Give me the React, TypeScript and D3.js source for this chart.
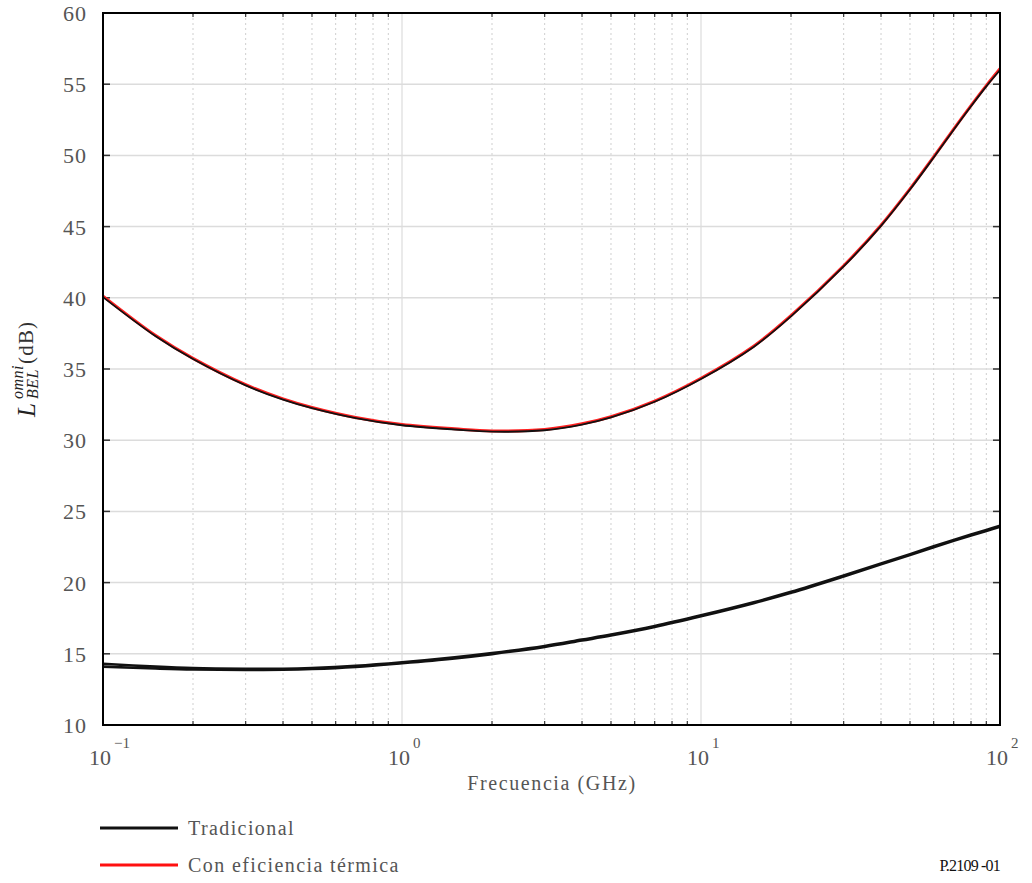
import React from "react";
import * as d3 from "d3";

const freqs = [0.1, 0.15, 0.2, 0.3, 0.4, 0.5, 0.7, 1, 1.5, 2, 3, 4, 5, 7, 10, 15, 20, 30, 40, 50, 60, 70, 80, 90, 100];
const thermalBlack = [40.05, 37.3, 35.7, 33.85, 32.85, 32.25, 31.55, 31.05, 30.75, 30.6, 30.7, 31.1, 31.6, 32.7, 34.3, 36.55, 38.7, 42.2, 45.05, 47.6, 49.85, 51.8, 53.45, 54.85, 56.0];
const thermalRed = [40.12, 37.35, 35.75, 33.9, 32.9, 32.3, 31.6, 31.1, 30.8, 30.65, 30.75, 31.15, 31.65, 32.75, 34.35, 36.6, 38.75, 42.25, 45.1, 47.65, 49.9, 51.85, 53.5, 54.9, 56.08];
const tradA = [14.3, 14.1, 14.0, 13.95, 13.95, 14.0, 14.15, 14.4, 14.75, 15.05, 15.55, 16.0, 16.35, 16.95, 17.7, 18.62, 19.35, 20.5, 21.35, 22.0, 22.55, 23.0, 23.38, 23.7, 24.0];
const tradB = [14.1, 13.97, 13.9, 13.87, 13.88, 13.93, 14.08, 14.34, 14.68, 14.98, 15.48, 15.93, 16.28, 16.88, 17.63, 18.55, 19.28, 20.43, 21.28, 21.93, 22.48, 22.93, 23.31, 23.63, 23.93];

const yTicks = [10, 15, 20, 25, 30, 35, 40, 45, 50, 55, 60];
const xMajor = [0.1, 1, 10, 100];
const xMajorExp = ["\u22121", "0", "1", "2"];

const W = 1032, H = 883;
const L = 103, R = 1000, T = 13, B = 725;

export default function App() {
  const x = d3.scaleLog().domain([0.1, 100]).range([L, R]);
  const y = d3.scaleLinear().domain([10, 60]).range([B, T]);
  const minors: number[] = [];
  [0.1, 1, 10].forEach((d) => {
    for (let k = 2; k <= 9; k++) minors.push(d * k);
  });
  const line = (vals: number[]) =>
    d3
      .line<number>()
      .x((_, i) => x(freqs[i]))
      .y((v) => y(v))
      .curve(d3.curveCatmullRom.alpha(0.5))(vals) || "";
  const font = "'Liberation Serif', 'Times New Roman', Times, serif";
  const gray = "#555";
  return (
    <svg width={W} height={H} style={{ position: "absolute", left: 0, top: 0, background: "#fff", fontFamily: font }}>
      <rect x={0} y={0} width={W} height={H} fill="#fff" />
      {/* minor grid */}
      {minors.map((m) => (
        <line key={"m" + m} x1={x(m)} x2={x(m)} y1={T} y2={B} stroke="#cfcfcf" strokeWidth={1} strokeDasharray="2,3" />
      ))}
      {xMajor.slice(1, 3).map((m) => (
        <line key={"M" + m} x1={x(m)} x2={x(m)} y1={T} y2={B} stroke="#dcdcdc" strokeWidth={1.2} />
      ))}
      {yTicks.slice(1, -1).map((t) => (
        <line key={"h" + t} x1={L} x2={R} y1={y(t)} y2={y(t)} stroke="#dcdcdc" strokeWidth={1.5} />
      ))}
      {/* ticks */}
      {yTicks.map((t) => (
        <g key={"yt" + t}>
          <line x1={L} x2={L + 7} y1={y(t)} y2={y(t)} stroke="#333" strokeWidth={1.5} />
          <line x1={R} x2={R - 7} y1={y(t)} y2={y(t)} stroke="#333" strokeWidth={1.5} />
        </g>
      ))}
      {minors.map((m) => (
        <g key={"xt" + m}>
          <line x1={x(m)} x2={x(m)} y1={B} y2={B - 4} stroke="#333" strokeWidth={1.2} />
          <line x1={x(m)} x2={x(m)} y1={T} y2={T + 4} stroke="#333" strokeWidth={1.2} />
        </g>
      ))}
      {/* curves */}
      <path d={line(thermalRed)} fill="none" stroke="#ff2020" strokeWidth={3} />
      <path d={line(thermalBlack)} fill="none" stroke="#111" strokeWidth={1.8} />
      <path d={line(tradB)} fill="none" stroke="#111" strokeWidth={2.6} />
      <path d={line(tradA)} fill="none" stroke="#111" strokeWidth={2.6} />
      {/* frame */}
      <rect x={L} y={T} width={R - L} height={B - T} fill="none" stroke="#000" strokeWidth={2} />
      {/* y tick labels */}
      {yTicks.map((t) => (
        <text key={"yl" + t} x={87} y={y(t) + 8} textAnchor="end" fontSize={22} letterSpacing={1} fill={gray}>
          {t}
        </text>
      ))}
      {/* x tick labels */}
      {xMajor.map((m, i) => (
        <text key={"xl" + m} x={Math.min(x(m) - 14, W - 39)} y={765} fontSize={22} fill={gray}>
          10
          <tspan dx={3} dy={-17} fontSize={15}>
            {xMajorExp[i]}
          </tspan>
        </text>
      ))}
      <text x={552} y={790} textAnchor="middle" fontSize={20} letterSpacing={1.6} fill={gray}>
        Frecuencia (GHz)
      </text>
      {/* y axis label */}
      <g transform="translate(35,0) rotate(-90)">
        <text x={-417} y={0} fontSize={25} fontStyle="italic" fill="#222">
          L
        </text>
        <text x={-399} y={-12} fontSize={16} fontStyle="italic" letterSpacing={0.5} fill="#222">
          omni
        </text>
        <text x={-399} y={3} fontSize={16} fontStyle="italic" letterSpacing={0.5} fill="#222">
          BEL
        </text>
        <text x={-364} y={-2} fontSize={21} letterSpacing={1.2} fill="#333">
          (dB)
        </text>
      </g>
      {/* legend */}
      <line x1={100} x2={178} y1={828} y2={828} stroke="#111" strokeWidth={3} />
      <text x={188} y={835} fontSize={20} letterSpacing={1.4} fill={gray}>
        Tradicional
      </text>
      <line x1={100} x2={178} y1={865} y2={865} stroke="#ff1010" strokeWidth={3} />
      <text x={188} y={872} fontSize={20} letterSpacing={1.4} fill={gray}>
        Con eficiencia térmica
      </text>
      <text x={1000} y={871} textAnchor="end" fontSize={16} fill="#111" letterSpacing={-0.8}>
        P.2109 -01
      </text>
    </svg>
  );
}
